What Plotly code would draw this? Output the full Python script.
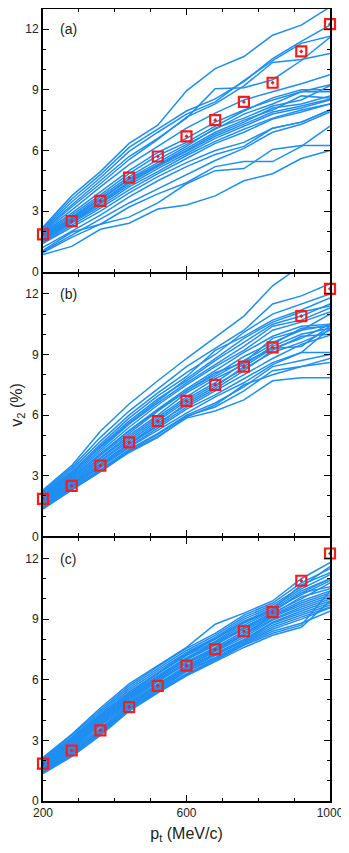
import plotly.graph_objects as go
from plotly.subplots import make_subplots

# transverse momentum grid (MeV/c)
pt = [200, 280, 360, 440, 520, 600, 680, 760, 840, 920, 1000]

# measured v2 (%), same data shown in every panel
v2_exp = [1.85, 2.5, 3.5, 4.65, 5.7, 6.7, 7.5, 8.4, 9.35, 10.9, 12.25]

# model curves, panel (a)
model_a = [
    [2.20, 3.75, 4.95, 6.35, 7.25, 8.95, 10.05, 10.65, 11.70, 12.20, 13.10],
    [2.15, 3.60, 4.80, 6.15, 7.05, 7.95, 8.55, 9.40, 10.55, 11.40, 12.20],
    [2.10, 3.45, 4.65, 5.95, 6.90, 7.80, 8.40, 9.45, 10.45, 11.30, 11.65],
    [2.05, 3.30, 4.50, 5.70, 6.60, 7.60, 9.05, 9.10, 9.50, 10.45, 11.60],
    [2.00, 3.20, 4.35, 5.55, 6.55, 7.65, 8.30, 9.20, 10.35, 10.50, 10.80],
    [1.95, 3.05, 4.20, 5.30, 6.20, 7.10, 7.85, 8.50, 8.90, 9.30, 9.75],
    [1.90, 2.90, 3.95, 5.00, 5.90, 6.60, 7.40, 8.00, 8.50, 8.90, 9.25],
    [1.85, 2.80, 3.80, 4.85, 5.75, 6.40, 7.20, 7.95, 8.60, 9.00, 9.00],
    [1.80, 2.70, 3.70, 4.70, 5.55, 6.30, 7.05, 7.80, 8.30, 8.90, 8.90],
    [1.75, 2.65, 3.60, 4.60, 5.40, 6.20, 7.10, 7.60, 8.20, 8.50, 9.20],
    [1.70, 2.60, 3.55, 4.55, 5.30, 6.10, 6.90, 7.50, 8.00, 8.70, 8.60],
    [1.65, 2.55, 3.45, 4.45, 5.25, 6.00, 6.80, 7.40, 8.10, 8.30, 8.70],
    [1.60, 2.50, 3.40, 4.40, 5.20, 5.95, 6.70, 7.30, 7.90, 8.20, 8.55],
    [1.55, 2.45, 3.35, 4.30, 5.10, 5.85, 6.60, 7.20, 7.80, 8.10, 8.50],
    [1.50, 2.40, 3.25, 4.20, 4.95, 5.75, 6.45, 7.05, 7.60, 8.00, 8.30],
    [1.45, 2.30, 3.15, 4.05, 4.85, 5.60, 6.35, 6.90, 7.55, 7.90, 8.30],
    [1.40, 2.20, 3.00, 3.90, 4.70, 5.40, 6.00, 6.40, 7.10, 7.40, 8.00],
    [1.20, 2.00, 2.80, 3.70, 4.50, 5.20, 5.80, 6.20, 7.10, 7.40, 8.00],
    [1.05, 1.95, 2.35, 3.20, 3.85, 4.40, 5.20, 5.45, 5.45, 6.20, 7.20],
    [0.95, 1.70, 2.35, 2.70, 3.40, 4.35, 5.00, 5.10, 6.05, 6.25, 6.25],
    [0.85, 1.25, 2.10, 2.40, 3.10, 3.30, 3.75, 4.50, 4.85, 5.60, 6.00],
    [1.00, 1.80, 2.60, 3.40, 4.10, 4.80, 5.50, 6.10, 6.90, 7.30, 7.90],
]

# model curves, panel (b)
model_b = [
    [2.30, 3.50, 5.20, 6.55, 7.70, 8.80, 9.85, 10.90, 12.40, 13.40, 14.20],
    [2.25, 3.40, 4.90, 6.20, 7.30, 8.40, 9.30, 10.20, 11.50, 11.90, 12.50],
    [2.20, 3.30, 4.70, 6.00, 7.10, 8.10, 9.00, 10.10, 11.00, 11.50, 12.00],
    [2.15, 3.20, 4.55, 5.85, 6.95, 7.90, 9.20, 9.90, 10.70, 11.20, 11.80],
    [2.10, 3.10, 4.45, 5.70, 6.80, 7.70, 8.70, 9.60, 10.50, 10.90, 11.50],
    [2.05, 3.05, 4.30, 5.55, 6.60, 7.60, 8.50, 9.40, 10.40, 10.70, 11.30],
    [2.00, 3.00, 4.20, 5.40, 6.50, 7.50, 8.40, 9.20, 10.20, 10.60, 11.10],
    [1.95, 2.90, 4.10, 5.25, 6.30, 7.30, 8.20, 9.10, 9.90, 10.40, 10.50],
    [1.90, 2.85, 4.00, 5.10, 6.20, 7.20, 8.00, 8.90, 9.60, 10.20, 10.45],
    [1.85, 2.80, 3.90, 5.00, 6.00, 7.10, 7.90, 8.70, 9.50, 10.30, 10.40],
    [1.80, 2.75, 3.85, 4.90, 5.90, 6.90, 7.80, 8.50, 9.40, 10.00, 10.30],
    [1.75, 2.70, 3.75, 4.80, 5.80, 6.80, 7.60, 8.60, 9.30, 9.80, 10.50],
    [1.70, 2.65, 3.70, 4.70, 5.70, 6.70, 7.50, 8.30, 9.10, 9.60, 10.20],
    [1.65, 2.60, 3.60, 4.60, 5.60, 6.50, 7.30, 8.20, 9.20, 9.90, 10.00],
    [1.60, 2.55, 3.55, 4.55, 5.45, 6.40, 7.20, 8.00, 8.80, 9.50, 9.95],
    [1.55, 2.50, 3.45, 4.45, 5.35, 6.30, 7.00, 7.80, 8.60, 9.10, 10.30],
    [1.50, 2.45, 3.40, 4.40, 5.25, 6.10, 6.90, 7.60, 8.50, 9.10, 9.10],
    [1.50, 2.40, 3.30, 4.30, 5.10, 6.00, 6.60, 7.40, 8.40, 8.70, 9.00],
    [1.45, 2.35, 3.25, 4.25, 5.05, 5.95, 6.40, 7.20, 8.20, 8.40, 8.80],
    [1.40, 2.30, 3.20, 4.20, 4.95, 5.85, 6.20, 6.75, 7.70, 7.85, 7.85],
    [1.35, 2.30, 3.20, 4.15, 4.90, 5.90, 6.50, 7.50, 8.00, 8.40, 8.60],
    [1.55, 2.45, 3.50, 4.55, 5.50, 6.60, 7.40, 8.40, 9.30, 9.40, 10.40],
    [1.95, 2.95, 4.05, 5.20, 6.25, 7.20, 8.10, 8.60, 9.80, 10.20, 11.00],
    [2.10, 3.15, 4.40, 5.60, 6.70, 7.80, 8.80, 9.80, 10.60, 11.10, 11.40],
]

# model curves, panel (c)
model_c = [
    [2.15, 3.30, 4.60, 5.80, 6.70, 7.60, 8.75, 9.30, 9.90, 11.00, 11.80],
    [2.10, 3.25, 4.50, 5.70, 6.65, 7.55, 8.30, 9.20, 9.80, 10.80, 11.50],
    [2.05, 3.15, 4.40, 5.60, 6.55, 7.45, 8.20, 9.10, 9.70, 10.60, 11.60],
    [2.00, 3.10, 4.30, 5.50, 6.45, 7.35, 8.10, 9.00, 9.60, 10.50, 11.20],
    [1.95, 3.05, 4.20, 5.40, 6.35, 7.30, 8.05, 8.90, 9.50, 10.40, 11.00],
    [1.90, 3.00, 4.15, 5.30, 6.30, 7.20, 7.90, 8.80, 9.45, 10.20, 10.90],
    [1.85, 2.95, 4.10, 5.25, 6.20, 7.10, 7.85, 8.70, 9.40, 10.30, 10.60],
    [1.80, 2.90, 4.00, 5.20, 6.15, 7.05, 7.80, 8.60, 9.30, 10.00, 10.80],
    [1.75, 2.85, 3.95, 5.10, 6.05, 7.00, 7.75, 8.50, 9.25, 10.10, 10.50],
    [1.70, 2.80, 3.90, 5.05, 6.00, 6.90, 7.60, 8.40, 9.20, 9.90, 10.40],
    [1.70, 2.75, 3.85, 5.00, 5.95, 6.85, 7.55, 8.30, 9.15, 9.80, 10.30],
    [1.65, 2.70, 3.80, 4.95, 5.90, 6.80, 7.50, 8.25, 9.10, 9.70, 10.20],
    [1.60, 2.65, 3.75, 4.90, 5.80, 6.70, 7.45, 8.20, 9.00, 9.60, 10.10],
    [1.60, 2.60, 3.70, 4.85, 5.75, 6.65, 7.40, 8.10, 8.95, 9.50, 10.00],
    [1.55, 2.55, 3.60, 4.80, 5.70, 6.60, 7.30, 8.00, 8.85, 9.40, 9.90],
    [1.50, 2.50, 3.55, 4.75, 5.65, 6.55, 7.25, 7.95, 8.80, 9.30, 9.80],
    [1.50, 2.45, 3.50, 4.70, 5.60, 6.50, 7.20, 7.90, 8.70, 9.20, 9.70],
    [1.45, 2.40, 3.45, 4.65, 5.55, 6.45, 7.10, 7.85, 8.60, 9.10, 9.60],
    [1.45, 2.35, 3.40, 4.60, 5.50, 6.40, 7.05, 7.80, 8.50, 9.00, 9.55],
    [1.40, 2.30, 3.35, 4.55, 5.45, 6.30, 7.00, 7.75, 8.40, 8.80, 9.40],
    [1.40, 2.25, 3.30, 4.50, 5.40, 6.25, 6.95, 7.70, 8.30, 8.70, 10.40],
    [1.35, 2.20, 3.25, 4.45, 5.35, 6.20, 6.90, 7.60, 8.20, 8.60, 9.90],
    [1.90, 3.05, 4.25, 5.35, 6.30, 7.25, 8.00, 8.85, 9.50, 10.70, 11.30],
    [1.75, 2.85, 4.05, 5.15, 6.10, 7.00, 7.70, 8.55, 9.35, 10.30, 11.00],
]

panel_labels = ["(a)", "(b)", "(c)"]

BLUE = "#1f8ef1"
RED = "#ff1a1a"
FONT = "Liberation Sans"

# small gap so the shared frame lines of neighbouring panels sit on top of each other
fig = make_subplots(rows=3, cols=1, shared_xaxes=True, vertical_spacing=2 / 793)

for row, curves in enumerate([model_a, model_b, model_c], start=1):
    for curve in curves:
        fig.add_trace(
            go.Scatter(x=pt, y=curve, mode="lines",
                       line=dict(color=BLUE, width=1.5), hoverinfo="skip"),
            row=row, col=1,
        )
    fig.add_trace(
        go.Scatter(x=pt, y=v2_exp, mode="markers", cliponaxis=False,
                   marker=dict(symbol="square-open-dot", size=10, color=RED,
                               line=dict(color=RED, width=2.2))),
        row=row, col=1,
    )
    yref = "y" if row == 1 else f"y{row}"
    xref = "x" if row == 1 else f"x{row}"
    fig.add_annotation(x=270, y=12, xref=xref, yref=yref, text=panel_labels[row - 1],
                       showarrow=False, font=dict(family=FONT, size=14, color="#222"))

axis_style = dict(
    showline=True, linewidth=2, linecolor="black", mirror="allticks",
    ticks="inside", ticklen=6, tickwidth=1.3, tickcolor="black",
    showgrid=False, zeroline=False, automargin=False,
    tickfont=dict(family=FONT, size=12, color="#222"),
)

fig.update_xaxes(range=[200, 1000], tickvals=[200, 600, 1000],
                 minor=dict(ticks="inside", dtick=100, ticklen=3, tickcolor="black"),
                 **axis_style)
fig.update_yaxes(range=[0, 13], tickvals=[0, 3, 6, 9, 12],
                 minor=dict(ticks="inside", dtick=1, ticklen=3, tickcolor="black"),
                 **axis_style)

fig.update_xaxes(title=dict(text="p<sub>t</sub> (MeV/c)", standoff=8,
                            font=dict(family=FONT, size=16, color="#222")),
                 row=3, col=1)
fig.update_yaxes(title=dict(text="v<sub>2</sub> (%)",
                            font=dict(family=FONT, size=16, color="#222")),
                 row=2, col=1)

# the page body keeps its default 8px margin, so the figure is drawn 8px in from
# the top-left corner; size and margins are trimmed to land on the same pixels
fig.update_layout(
    width=341, height=845,
    margin=dict(l=35, r=19, t=1, b=52),
    showlegend=False,
    plot_bgcolor="white", paper_bgcolor="white",
)

fig.write_html("out.html")
